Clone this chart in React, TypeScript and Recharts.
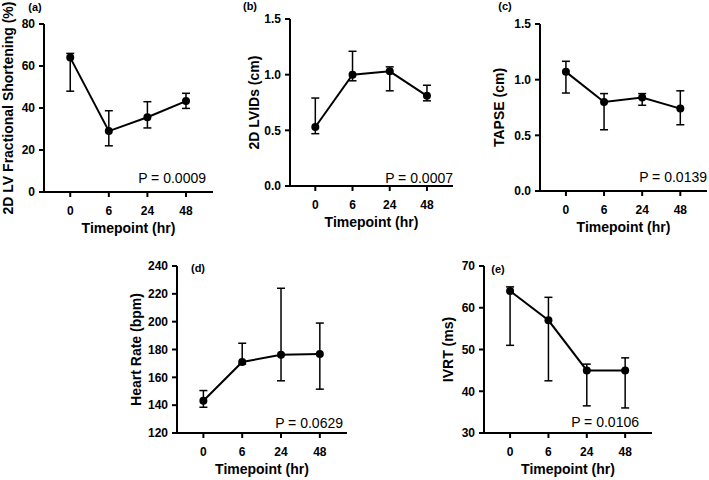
import { ErrorBar, Label, Line, LineChart, XAxis, YAxis } from "recharts";

const timepoints = ["0", "6", "24", "48"];

// (a) 2D LV fractional shortening (%)
const fsMean = [64, 29, 35.6, 43.3];
const fsLow = [48, 22, 30.5, 39.8];
const fsHigh = [66, 38.7, 43, 47];

// (b) 2D LVIDs (cm)
const lvidsMean = [0.53, 1.0, 1.03, 0.81];
const lvidsLow = [0.47, 0.945, 0.855, 0.765];
const lvidsHigh = [0.79, 1.21, 1.07, 0.905];

// (c) TAPSE (cm)
const tapseMean = [1.07, 0.8, 0.84, 0.74];
const tapseLow = [0.88, 0.55, 0.77, 0.595];
const tapseHigh = [1.165, 0.875, 0.875, 0.9];

// (d) heart rate (bpm)
const hrMean = [143.2, 171, 176.3, 176.8];
const hrLow = [138.5, 169.5, 157.5, 151.5];
const hrHigh = [150.5, 184.5, 224, 199];

// (e) IVRT (ms)
const ivrtMean = [64, 57, 45, 45];
const ivrtLow = [51, 42.5, 36.5, 36];
const ivrtHigh = [65, 62.5, 46.5, 48];

const FONT = '"Liberation Sans", Arial, Helvetica, sans-serif';
const AXIS = { stroke: "#000", strokeWidth: 2 };

interface PanelProps {
  left: number;
  top: number;
  axisX: number;
  plotTop: number;
  plotBottom: number;
  axisEnd: number;
  mean: number[];
  low: number[];
  high: number[];
  domain: [number, number];
  ticks: number[];
  decimals: number;
  title: string;
  titleX: number;
  tag: string;
  tagX: number;
  tagY: number;
  pText: string;
  pX: number;
  pY: number;
}

function Panel(p: PanelProps) {
  const rows = timepoints.map((t, i) => ({
    idx: i,
    label: t,
    mean: p.mean[i],
    err: [p.mean[i] - p.low[i], p.high[i] - p.mean[i]],
  }));
  const yAxisW = p.axisX - p.left;
  const plotW = p.axisEnd - p.axisX;
  const plotH = p.plotBottom - p.plotTop;
  const mTop = p.plotTop - p.top;
  const width = yAxisW + plotW + 2;
  const height = mTop + plotH + 50;

  return (
    <div style={{ position: "absolute", left: p.left, top: p.top }}>
      <LineChart
        width={width}
        height={height}
        data={rows}
        margin={{ top: mTop, right: 2, bottom: 0, left: 0 }}
      >
        <XAxis
          type="number"
          dataKey="idx"
          domain={[-0.68, 3.7]}
          ticks={[0, 1, 2, 3]}
          tickFormatter={(v: number) => timepoints[v]}
          allowDataOverflow
          height={50}
          axisLine={AXIS}
          tickLine={AXIS}
          tickSize={5}
          tickMargin={9}
          tick={{ fill: "#000", fontSize: 12, fontWeight: 700, fontFamily: FONT }}
        >
          <Label
            value="Timepoint (hr)"
            position="insideBottom"
            offset={9}
            fill="#000"
            style={{ fill: "#000", fontSize: 14, fontWeight: 700, fontFamily: FONT }}
          />
        </XAxis>
        <YAxis
          type="number"
          width={yAxisW}
          domain={p.domain}
          ticks={p.ticks}
          allowDataOverflow
          tickFormatter={(v: number) => v.toFixed(p.decimals)}
          axisLine={AXIS}
          tickLine={AXIS}
          tickSize={5}
          tickMargin={4}
          tick={{ fill: "#000", fontSize: 12, fontWeight: 700, fontFamily: FONT }}
        >
          <Label
            value={p.title}
            angle={-90}
            position="insideLeft"
            offset={p.titleX - p.left}
            fill="#000"
            style={{
              textAnchor: "middle",
              fill: "#000",
              fontSize: 14,
              fontWeight: 700,
              fontFamily: FONT,
            }}
          />
        </YAxis>
        <Line
          type="linear"
          dataKey="mean"
          stroke="#000"
          strokeWidth={2}
          dot={{ r: 4, fill: "#000", stroke: "#000", strokeWidth: 0 }}
          isAnimationActive={false}
        >
          <ErrorBar
            dataKey="err"
            direction="y"
            width={4}
            stroke="#000"
            strokeWidth={1.5}
            isAnimationActive={false}
          />
        </Line>
        <text
          x={p.tagX - p.left}
          y={p.tagY - p.top}
          textAnchor="middle"
          fill="#000"
          fontSize={11}
          fontWeight={700}
          fontFamily={FONT}
        >
          {p.tag}
        </text>
        <text
          x={p.pX - p.left}
          y={p.pY - p.top}
          textAnchor="end"
          fill="#000"
          fontSize={14}
          fontFamily={FONT}
        >
          {p.pText}
        </text>
      </LineChart>
    </div>
  );
}

export default function App() {
  return (
    <div
      style={{
        position: "absolute",
        left: 0,
        top: 0,
        width: 709,
        height: 480,
        background: "#fff",
        overflow: "hidden",
      }}
    >
      <Panel
        left={0} top={0} axisX={44} plotTop={24} plotBottom={192} axisEnd={213}
        mean={fsMean} low={fsLow} high={fsHigh}
        domain={[0, 80]} ticks={[0, 20, 40, 60, 80]} decimals={0}
        title="2D LV Fractional Shortening (%)" titleX={8}
        tag="(a)" tagX={35} tagY={11}
        pText="P = 0.0009" pX={206} pY={183}
      />
      <Panel
        left={235} top={0} axisX={290} plotTop={19} plotBottom={186} axisEnd={453}
        mean={lvidsMean} low={lvidsLow} high={lvidsHigh}
        domain={[0, 1.5]} ticks={[0, 0.5, 1, 1.5]} decimals={1}
        title="2D LVIDs (cm)" titleX={254}
        tag="(b)" tagX={250} tagY={10}
        pText="P = 0.0007" pX={453} pY={183}
      />
      <Panel
        left={462} top={0} axisX={540} plotTop={24} plotBottom={191} axisEnd={707}
        mean={tapseMean} low={tapseLow} high={tapseHigh}
        domain={[0, 1.5]} ticks={[0, 0.5, 1, 1.5]} decimals={1}
        title="TAPSE (cm)" titleX={499}
        tag="(c)" tagX={505} tagY={10}
        pText="P = 0.0139" pX={707} pY={182}
      />
      <Panel
        left={120} top={240} axisX={177} plotTop={266} plotBottom={433} axisEnd={347}
        mean={hrMean} low={hrLow} high={hrHigh}
        domain={[120, 240]} ticks={[120, 140, 160, 180, 200, 220, 240]} decimals={0}
        title="Heart Rate (bpm)" titleX={136}
        tag="(d)" tagX={198} tagY={272}
        pText="P = 0.0629" pX={343} pY={428}
      />
      <Panel
        left={420} top={240} axisX={484} plotTop={266} plotBottom={433} axisEnd={652}
        mean={ivrtMean} low={ivrtLow} high={ivrtHigh}
        domain={[30, 70]} ticks={[30, 40, 50, 60, 70]} decimals={0}
        title="IVRT (ms)" titleX={448}
        tag="(e)" tagX={498} tagY={273}
        pText="P = 0.0106" pX={639} pY={427}
      />
    </div>
  );
}
